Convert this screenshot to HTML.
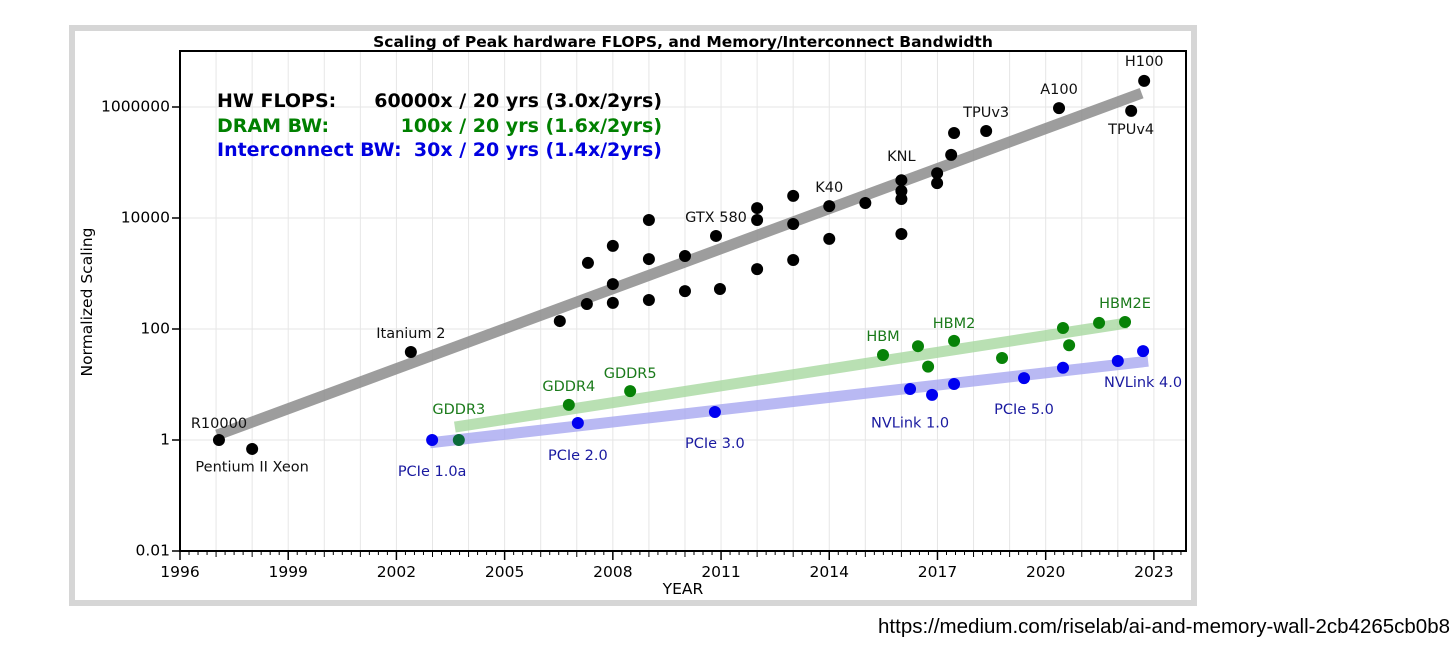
<!DOCTYPE html>
<html><head><meta charset="utf-8"><style>
body{margin:0;background:#fff;width:1456px;height:671px;overflow:hidden;font-family:"DejaVu Sans","Liberation Sans",sans-serif}
svg{position:absolute;left:0;top:0}
</style></head><body>
<svg id="chart" width="1456" height="671">
<rect x="72" y="28" width="1122" height="575" fill="#fff" stroke="#d6d6d6" stroke-width="6"/>
<text x="683" y="47" text-anchor="middle" font-size="15.5" font-weight="bold">Scaling of Peak hardware FLOPS, and Memory/Interconnect Bandwidth</text>
<g id="grid"></g><g id="trends"></g><g id="pts"></g><g id="labels"></g><g id="axes"></g>
<g font-size="19" font-weight="bold">
<text x="217" y="107" fill="#000">HW FLOPS:</text>
<text x="662" y="107" fill="#000" text-anchor="end">60000x / 20 yrs (3.0x/2yrs)</text>
<text x="217" y="132" fill="#008000">DRAM BW:</text>
<text x="662" y="132" fill="#008000" text-anchor="end">100x / 20 yrs (1.6x/2yrs)</text>
<text x="217" y="156" fill="#0000e0">Interconnect BW:</text>
<text x="662" y="156" fill="#0000e0" text-anchor="end">30x / 20 yrs (1.4x/2yrs)</text>
</g>
<text transform="translate(92,302) rotate(-90)" text-anchor="middle" font-size="15.5">Normalized Scaling</text>
<text x="683" y="594" text-anchor="middle" font-size="15.5">YEAR</text>
<text x="1450" y="633" text-anchor="end" font-size="20.5" font-family="Liberation Sans, sans-serif">https://medium.com/riselab/ai-and-memory-wall-2cb4265cb0b8</text>
</svg>
<script>
const hwYears=[1997.08,1998.0,2002.4,2006.53,2007.28,2007.31,2008,2008,2008,2009,2009,2009,2010,2010,2010.86,2010.97,2012,2012,2012,2013,2013,2013,2014,2014,2015,2016,2016,2016,2016,2016.99,2016.99,2017.38,2017.46,2018.35,2020.37,2022.37,2022.73];
const hwValues=[1,0.69,38.5,139,282,1550,3150,645,295,9200,1820,333,2070,482,4750,526,15100,9200,1200,25000,7800,1750,16400,4200,18600,48000,30600,22000,5150,64000,42500,137000,340000,370000,955000,850000,2950000];
const dramYears=[2003.73,2006.78,2008.48,2015.49,2016.46,2016.74,2017.46,2018.79,2020.48,2020.65,2021.48,2022.2];
const dramValues=[1,4.3,7.6,34,49,21,61,30,104,51,129,134];
const icYears=[2002.99,2007.03,2010.83,2016.24,2016.85,2017.46,2019.4,2020.48,2022.0,2022.7];
const icValues=[1,2.02,3.2,8.3,6.5,10.2,13,20,26.5,40];
const hwTrend=[[1997.03,1.23],[2022.66,1780000]];
const dramTrend=[[2003.62,1.71],[2022.25,128]];
const icTrend=[[2002.93,0.89],[2022.84,26.3]];
const hwLabels=[["R10000",1997.08,1.94],["Pentium II Xeon",1998.0,0.32],["Itanium 2",2002.4,81],["GTX 580",2010.86,10000],["K40",2014,35000],["KNL",2016,126000],["TPUv3",2018.35,780000],["A100",2020.37,2030000],["H100",2022.73,6500000],["TPUv4",2022.37,385000]];
const dramLabels=[["GDDR3",2003.73,3.5],["GDDR4",2006.78,9],["GDDR5",2008.48,15.5],["HBM",2015.49,72],["HBM2",2017.46,123],["HBM2E",2022.2,282]];
const icLabels=[["PCIe 1.0a",2002.99,0.265],["PCIe 2.0",2007.03,0.51],["PCIe 3.0",2010.83,0.85],["NVLink 1.0",2016.24,2.0],["PCIe 5.0",2019.4,3.5],["NVLink 4.0",2022.7,10.6]];
const yTicks=[0.01,1,100,10000,1000000];
const yTickLabels=["0.01","1","100","10000","1000000"];
const xTicks=[1996,1999,2002,2005,2008,2011,2014,2017,2020,2023];

const L=180,R=1186,T=51,B=551;
const X=y=>L+(y-1996)*36.07;
const Y=v=>440-55.5*Math.log10(v);
const NS="http://www.w3.org/2000/svg";
function mk(tag,parent,attrs){const e=document.createElementNS(NS,tag);for(const k in attrs)e.setAttribute(k,attrs[k]);document.getElementById(parent).appendChild(e);return e;}
for(let yr=1997;yr<=2023;yr++){const g=mk('line','grid',{x1:X(yr),x2:X(yr),y1:T,y2:B,stroke:'#e6e6e6','stroke-width':1});

}
yTicks.forEach(v=>{const g=mk('line','grid',{x1:L,x2:R,y1:Y(v),y2:Y(v),stroke:'#e6e6e6','stroke-width':1});

});
[[hwTrend,'#8c8c8c',0.85,11,'hw-flops-trend'],[dramTrend,'#a8d8a0',0.8,11,'dram-bw-trend'],[icTrend,'#a8a8f0',0.8,11,'interconnect-bw-trend']].forEach(([t,c,o,w,n])=>{
const l=mk('line','trends',{x1:X(t[0][0]),y1:Y(t[0][1]),x2:X(t[1][0]),y2:Y(t[1][1]),stroke:c,'stroke-opacity':o,'stroke-width':w});

});
hwYears.forEach((yr,i)=>{const c=mk('circle','pts',{cx:X(yr),cy:Y(hwValues[i]),r:6,fill:'#000'});

});
dramYears.forEach((yr,i)=>{const c=mk('circle','pts',{cx:X(yr),cy:Y(dramValues[i]),r:6,fill:i==0?'#0b6b3a':'#078207'});

});
icYears.forEach((yr,i)=>{const c=mk('circle','pts',{cx:X(yr),cy:Y(icValues[i]),r:6,fill:'#0000f0'});

});
[[hwLabels,'#111'],[dramLabels,'#1a7a1a'],[icLabels,'#1a1aa0']].forEach(([arr,c])=>arr.forEach(([t,yr,v])=>{
const e=mk('text','labels',{x:X(yr),y:Y(v),'text-anchor':'middle','dominant-baseline':'middle','font-size':14.5,fill:c});e.textContent=t;

}));
const fr=mk('rect','axes',{x:L,y:T,width:R-L,height:B-T,fill:'none',stroke:'#000','stroke-width':2});


for(let q=0;q<=27.75*4;q++){const yr=1996+q/4;const maj=(q%12==0),yrT=(q%4==0);
const tk=mk('line','axes',{x1:X(yr),x2:X(yr),y1:B,y2:B+(maj?9:yrT?6:4),stroke:'#000','stroke-width':maj?1.5:1});

}
xTicks.forEach(yr=>{const e=mk('text','axes',{x:X(yr),y:B+26,'text-anchor':'middle','font-size':15.5});e.textContent=String(yr);

});
yTicks.forEach((v,i)=>{const tk=mk('line','axes',{x1:L-8,x2:L,y1:Y(v),y2:Y(v),stroke:'#000','stroke-width':1.5});


const e=mk('text','axes',{x:L-10,y:Y(v),'text-anchor':'end','dominant-baseline':'middle','font-size':15.5});e.textContent=yTickLabels[i];

});
</script>
</body></html>
